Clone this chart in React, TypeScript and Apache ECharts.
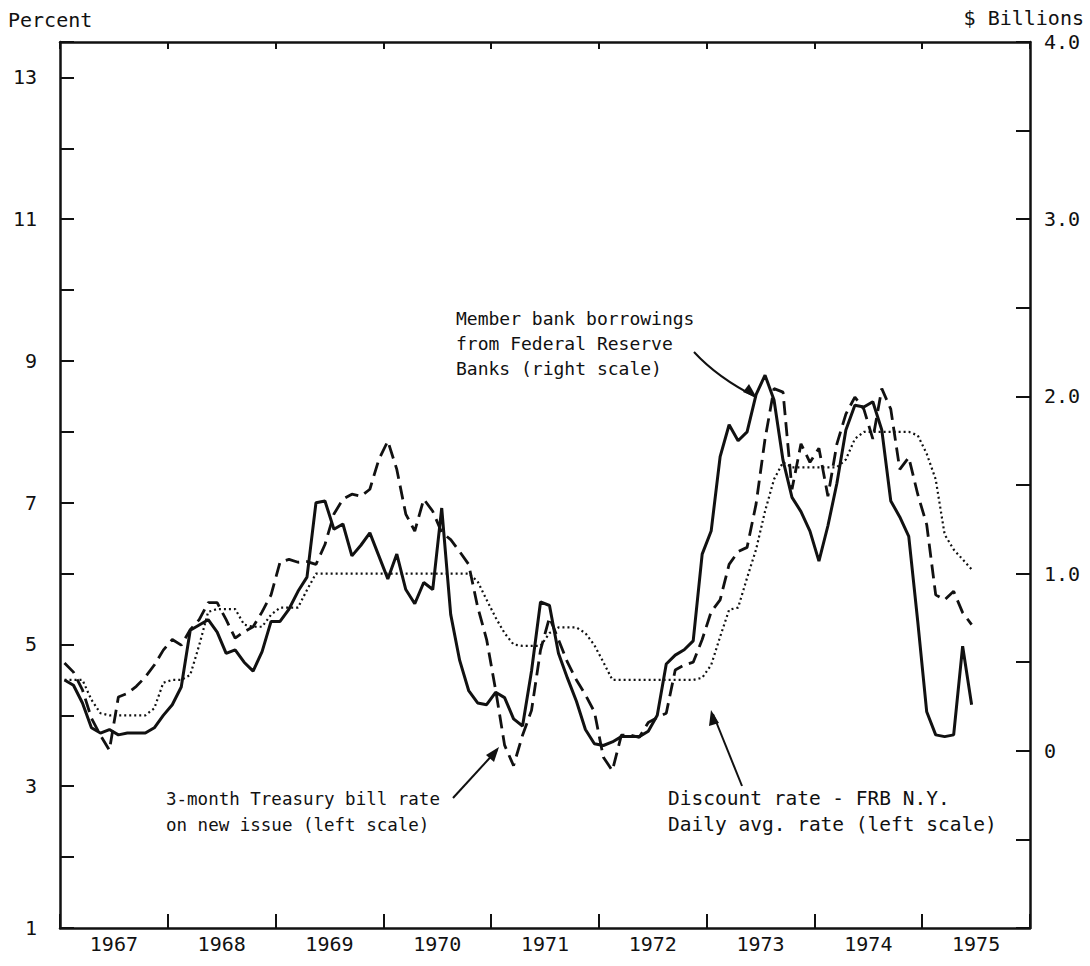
import React, { useEffect, useRef } from "react";
import * as echarts from "echarts";

// Year labels (centred under each year span)
const YEARS = ["1967", "1968", "1969", "1970", "1971", "1972", "1973", "1974", "1975"];
const START_YEAR = 1967;

// Member bank borrowings from Federal Reserve Banks, $ billions (right scale), monthly from Jan 1967
const borrowings = [
  0.40, 0.37, 0.27, 0.13, 0.10, 0.12, 0.09, 0.10, 0.10, 0.10, 0.13, 0.20,
  0.26, 0.36, 0.68, 0.71, 0.74, 0.67, 0.55, 0.57, 0.50, 0.45, 0.56, 0.73,
  0.73, 0.80, 0.90, 0.98, 1.40, 1.41, 1.25, 1.28, 1.10, 1.16, 1.23, 1.10,
  0.97, 1.11, 0.91, 0.83, 0.95, 0.91, 1.37, 0.77, 0.51, 0.34, 0.27, 0.26,
  0.33, 0.30, 0.18, 0.14, 0.45, 0.84, 0.82, 0.55, 0.41, 0.28, 0.12, 0.04,
  0.03, 0.05, 0.08, 0.08, 0.08, 0.11, 0.20, 0.49, 0.54, 0.57, 0.62, 1.11,
  1.24, 1.66, 1.84, 1.75, 1.80, 2.01, 2.12, 1.98, 1.64, 1.43, 1.35, 1.24,
  1.07, 1.27, 1.51, 1.81, 1.95, 1.94, 1.97, 1.81, 1.41, 1.32, 1.21, 0.73,
  0.22, 0.09, 0.08, 0.09, 0.59, 0.26,
];

// 3-month Treasury bill rate on new issue, percent (left scale)
const tbillRate = [
  4.74, 4.61, 4.36, 3.96, 3.72, 3.51, 4.26, 4.31, 4.41, 4.54, 4.71, 4.92,
  5.07, 4.99, 5.21, 5.35, 5.59, 5.59, 5.35, 5.09, 5.18, 5.25, 5.46, 5.70,
  6.16, 6.20, 6.16, 6.17, 6.13, 6.41, 6.84, 7.05, 7.12, 7.09, 7.19, 7.61,
  7.87, 7.47, 6.84, 6.60, 7.05, 6.88, 6.58, 6.48, 6.31, 6.13, 5.53, 5.07,
  4.36, 3.58, 3.29, 3.72, 4.07, 4.92, 5.38, 5.07, 4.75, 4.50, 4.29, 4.05,
  3.41, 3.22, 3.72, 3.72, 3.69, 3.90, 3.97, 4.03, 4.64, 4.71, 4.75, 5.07,
  5.46, 5.63, 6.13, 6.31, 6.37, 6.98, 7.90, 8.61, 8.56, 7.19, 7.83, 7.57,
  7.77, 7.09, 7.83, 8.25, 8.49, 8.32, 7.90, 8.61, 8.32, 7.47, 7.64, 7.12,
  6.69, 5.70, 5.63, 5.75, 5.45, 5.28,
];

// Discount rate - FRB N.Y., daily average rate, percent (left scale)
const discountRate = [
  4.50, 4.50, 4.50, 4.22, 4.03, 4.00, 4.00, 4.00, 4.00, 4.00, 4.10, 4.46,
  4.50, 4.50, 4.57, 4.99, 5.46, 5.50, 5.50, 5.50, 5.28, 5.25, 5.25, 5.42,
  5.52, 5.52, 5.52, 5.77, 6.00, 6.00, 6.00, 6.00, 6.00, 6.00, 6.00, 6.00,
  6.00, 6.00, 6.00, 6.00, 6.00, 6.00, 6.00, 6.00, 6.00, 6.00, 5.89, 5.63,
  5.38, 5.16, 5.00, 4.98, 4.98, 4.98, 5.16, 5.24, 5.24, 5.24, 5.16, 4.99,
  4.75, 4.50, 4.50, 4.50, 4.50, 4.50, 4.50, 4.50, 4.50, 4.50, 4.50, 4.53,
  4.71, 5.11, 5.49, 5.52, 5.94, 6.34, 6.88, 7.33, 7.57, 7.50, 7.50, 7.50,
  7.50, 7.50, 7.50, 7.61, 7.90, 8.00, 8.00, 8.00, 8.00, 8.00, 8.00, 7.95,
  7.69, 7.33, 6.55, 6.34, 6.20, 6.06,
];

const FONT = "'DejaVu Sans Mono', monospace";
const INK = "#111";

const toPoints = (arr: number[]) =>
  arr.map((v, i) => [START_YEAR + (i + 0.5) / 12, v]);

export default function App() {
  const ref = useRef<HTMLDivElement>(null);

  useEffect(() => {
    if (!ref.current) return;
    const chart = echarts.init(ref.current, undefined, { renderer: "svg" });

    const tickLabel = { fontFamily: FONT, fontSize: 20, color: INK };

    const option: any = {
      animation: false,
      backgroundColor: "#fff",
      grid: { left: 60, right: 60, top: 42, bottom: 38 },
      xAxis: [
        {
          type: "value",
          min: 1967,
          max: 1976,
          interval: 1,
          position: "top",
          axisLine: { show: true, onZero: false, lineStyle: { color: INK, width: 2.5 } },
          axisTick: { show: true, inside: true, length: 7, lineStyle: { color: INK, width: 2 } },
          axisLabel: { show: false },
          splitLine: { show: false },
        },
        {
          type: "category",
          data: YEARS,
          position: "bottom",
          boundaryGap: true,
          axisLine: { show: true, onZero: false, lineStyle: { color: INK, width: 2.5 } },
          axisTick: { show: true, inside: true, length: 14, lineStyle: { color: INK, width: 2 } },
          axisLabel: { ...tickLabel, margin: 6 },
          splitLine: { show: false },
        },
      ],
      yAxis: [
        {
          type: "value",
          min: 1,
          max: 13.5,
          interval: 1,
          position: "left",
          axisLine: { show: true, onZero: false, lineStyle: { color: INK, width: 2.5 } },
          axisTick: { show: true, inside: true, length: 14, lineStyle: { color: INK, width: 2 } },
          axisLabel: {
            ...tickLabel,
            margin: 23,
            formatter: (v: number) => (Number.isInteger(v) && v % 2 === 1 ? String(v) : ""),
          },
          splitLine: { show: false },
        },
        {
          type: "value",
          min: -1,
          max: 4,
          interval: 0.5,
          position: "right",
          axisLine: { show: true, onZero: false, lineStyle: { color: INK, width: 2.5 } },
          axisTick: { show: true, inside: true, length: 14, lineStyle: { color: INK, width: 2 } },
          axisLabel: {
            ...tickLabel,
            margin: 14,
            formatter: (v: number) =>
              Number.isInteger(v) && v >= 0 ? (v === 0 ? "0" : v.toFixed(1)) : "",
          },
          splitLine: { show: false },
        },
      ],
      series: [
        {
          name: "Member bank borrowings",
          type: "line",
          xAxisIndex: 0,
          yAxisIndex: 1,
          data: toPoints(borrowings),
          showSymbol: false,
          symbol: "none",
          lineStyle: { color: INK, width: 3, type: "solid" },
          z: 3,
        },
        {
          name: "3-month Treasury bill rate",
          type: "line",
          xAxisIndex: 0,
          yAxisIndex: 0,
          data: toPoints(tbillRate),
          showSymbol: false,
          symbol: "none",
          lineStyle: { color: INK, width: 2.8, type: [14, 7] },
          z: 2,
        },
        {
          name: "Discount rate",
          type: "line",
          xAxisIndex: 0,
          yAxisIndex: 0,
          data: toPoints(discountRate),
          showSymbol: false,
          symbol: "none",
          lineStyle: { color: INK, width: 2.2, type: [2, 3] },
          z: 1,
        },
      ],
      graphic: [
        {
          type: "text",
          x: 8,
          y: 10,
          style: { text: "Percent", font: `20px ${FONT}`, fill: INK },
        },
        {
          type: "text",
          x: 1084,
          y: 8,
          style: { text: "$ Billions", font: `20px ${FONT}`, fill: INK, align: "right", textAlign: "right" },
        },
        {
          type: "text",
          x: 456,
          y: 306,
          style: {
            text: "Member bank borrowings\nfrom Federal Reserve\nBanks (right scale)",
            font: `18px ${FONT}`,
            lineHeight: 25,
            fill: INK,
          },
        },
        {
          type: "text",
          x: 166,
          y: 786,
          style: {
            text: "3-month Treasury bill rate\non new issue (left scale)",
            font: `17.5px ${FONT}`,
            lineHeight: 26,
            fill: INK,
          },
        },
        {
          type: "text",
          x: 668,
          y: 785,
          style: {
            text: "Discount rate - FRB N.Y.\nDaily avg. rate (left scale)",
            font: `19.5px ${FONT}`,
            lineHeight: 26,
            fill: INK,
          },
        },
        {
          type: "bezierCurve",
          shape: { x1: 694, y1: 352, x2: 756, y2: 397, cpx1: 718, cpy1: 378 },
          style: { stroke: INK, lineWidth: 2, fill: "none" },
        },
        {
          type: "polygon",
          shape: { points: [[757, 398], [743, 392], [749, 384]] },
          style: { fill: INK },
        },
        {
          type: "line",
          shape: { x1: 453, y1: 798, x2: 497, y2: 750 },
          style: { stroke: INK, lineWidth: 2 },
        },
        {
          type: "polygon",
          shape: { points: [[499, 747], [486, 755], [494, 762]] },
          style: { fill: INK },
        },
        {
          type: "line",
          shape: { x1: 742, y1: 786, x2: 713, y2: 714 },
          style: { stroke: INK, lineWidth: 2 },
        },
        {
          type: "polygon",
          shape: { points: [[711, 710], [709, 726], [719, 723]] },
          style: { fill: INK },
        },
      ],
    };

    chart.setOption(option);
    return () => chart.dispose();
  }, []);

  return (
    <div
      ref={ref}
      style={{ position: "absolute", left: 0, top: 0, width: 1090, height: 966, background: "#fff" }}
    />
  );
}
